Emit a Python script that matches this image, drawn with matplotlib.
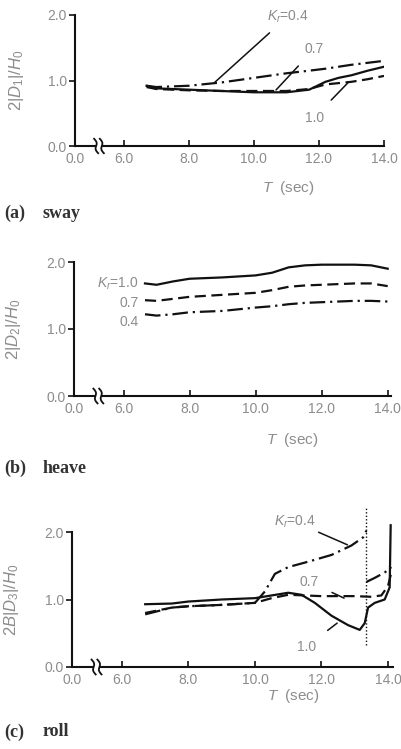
import numpy as np
import matplotlib
matplotlib.use("Agg")
import matplotlib.pyplot as plt

plt.rcParams["font.family"] = ["Liberation Sans", "DejaVu Sans"]
plt.rcParams["mathtext.fontset"] = "custom"
plt.rcParams["mathtext.it"] = "Liberation Sans:italic"
plt.rcParams["mathtext.rm"] = "Liberation Sans"

# ---------------- data ----------------
# (a) sway
T_sway = [6.7, 7.0, 8.0, 9.0, 10.0, 11.0, 11.7, 12.2, 12.6, 13.0, 13.5, 14.0]
sway_K04 = [0.92, 0.90, 0.92, 0.97, 1.04, 1.11, 1.15, 1.18, 1.21, 1.24, 1.27, 1.30]
sway_K07 = [0.90, 0.87, 0.85, 0.84, 0.84, 0.84, 0.87, 0.94, 0.96, 0.98, 1.02, 1.07]
sway_K10 = [0.92, 0.88, 0.86, 0.84, 0.82, 0.82, 0.86, 0.98, 1.04, 1.08, 1.15, 1.21]

# (b) heave
T_heave = [6.65, 7.0, 7.5, 8.0, 9.0, 10.0, 10.5, 11.0, 11.5, 12.0, 13.0, 13.5, 14.0]
heave_K10 = [1.68, 1.66, 1.71, 1.75, 1.77, 1.80, 1.84, 1.92, 1.95, 1.96, 1.96, 1.95, 1.90]
heave_K07 = [1.43, 1.42, 1.45, 1.48, 1.51, 1.54, 1.58, 1.63, 1.65, 1.66, 1.68, 1.68, 1.64]
heave_K04 = [1.22, 1.20, 1.22, 1.25, 1.27, 1.32, 1.34, 1.37, 1.39, 1.40, 1.42, 1.42, 1.41]

# (c) roll
T_roll_K10 = [6.7, 7.5, 8.0, 9.0, 10.0, 10.5, 11.0, 11.4, 11.8, 12.3, 12.8, 13.15, 13.3, 13.4, 13.6, 13.9, 14.05, 14.08]
roll_K10 = [0.93, 0.94, 0.97, 1.00, 1.02, 1.06, 1.10, 1.07, 0.95, 0.76, 0.62, 0.55, 0.65, 0.88, 0.95, 1.00, 1.18, 2.10]
T_roll_K07 = [6.7, 7.5, 8.0, 9.0, 10.0, 10.5, 11.0, 12.0, 13.0, 13.5, 13.8, 14.0, 14.1]
roll_K07 = [0.80, 0.88, 0.90, 0.92, 0.95, 1.02, 1.07, 1.05, 1.05, 1.04, 1.06, 1.20, 1.40]
T_roll_K04 = [6.7, 7.5, 8.0, 9.0, 10.0, 10.3, 10.6, 11.0, 11.6, 12.3, 12.9, 13.25, 13.35, np.nan, 13.35, 13.6, 13.9, 14.1]
roll_K04 = [0.78, 0.88, 0.90, 0.92, 0.95, 1.12, 1.38, 1.48, 1.56, 1.66, 1.80, 1.92, 2.02, np.nan, 1.26, 1.32, 1.40, 1.48]
T_resonance = 13.35
resonance_span = [0.33, 2.36]

x_ticks = [0.0, 6.0, 8.0, 10.0, 12.0, 14.0]
x_ticklabels = ["0.0", "6.0", "8.0", "10.0", "12.0", "14.0"]
y_ticks = [0.0, 1.0, 2.0]
y_ticklabels = ["0.0", "1.0", "2.0"]

# ---------------- style ----------------
GRAY = "#8c8c8c"
INK = "#111111"
LW = 1.6
DASH = (0, (5.0, 2.5))
DASHDOT = (0, (7.0, 2.2, 1.0, 2.2))
FS = 10

# broken x-axis: 0..6 compressed into 1.5 units
def fwd(x):
    x = np.asarray(x, dtype=float)
    return np.where(x < 6.0, 4.5 + x * 0.25, x)

def inv(u):
    u = np.asarray(u, dtype=float)
    return np.where(u < 6.0, (u - 4.5) / 0.25, u)

fig = plt.figure(figsize=(4.02, 7.49), dpi=100)

def setup(ax, xmax, ylabel, xlabel_y):
    ax.set_xscale("function", functions=(fwd, inv))
    ax.set_xlim(0.0, xmax)
    ax.set_ylim(0.0, 2.0)
    for s in ("top", "right"):
        ax.spines[s].set_visible(False)
    for s in ("left", "bottom"):
        ax.spines[s].set_linewidth(1.5)
        ax.spines[s].set_color(INK)
    ax.set_xticks(x_ticks)
    ax.set_xticklabels(x_ticklabels)
    ax.set_yticks(y_ticks)
    ax.set_yticklabels(y_ticklabels)
    ax.minorticks_off()
    ax.tick_params(axis="x", direction="in", length=4, width=1.2, pad=4,
                   labelsize=FS, labelcolor=GRAY, color=INK)
    ax.tick_params(axis="y", direction="out", length=4, width=1.2, pad=2,
                   labelsize=FS, labelcolor=GRAY, color=INK)
    ax.set_ylabel(ylabel, color=GRAY, fontsize=12)
    ax.yaxis.set_label_coords(-0.16, 0.5)
    ax.set_xlabel(r"$T$  (sec)", color=GRAY, fontsize=11, va="top")
    ax.xaxis.set_label_coords(0.69, xlabel_y)
    ax.patch.set_alpha(0)
    # break marks on the x axis
    xt = ax.get_xaxis_transform()
    ax.plot([2.6, 3.3], [0, 0], color="white", lw=3, transform=xt,
            clip_on=False, zorder=5, solid_capstyle="butt")
    for xb in (2.6, 3.3):
        yy = np.linspace(-0.055, 0.055, 20)
        xx = xb + 0.35 * np.sin(np.pi * yy / 0.055) * 0.5 - 0.25 * yy / 0.055
        ax.plot(xx, yy, color=INK, lw=1.3, transform=xt, clip_on=False, zorder=6)

# ---------------- (a) sway ----------------
axa = fig.add_axes([75 / 402, 1 - 146 / 749, 309 / 402, 131 / 749])
setup(axa, 14.0, r"$2|D_1|/H_0$", -0.25)
axa.plot(T_sway, sway_K04, color=INK, lw=LW, ls=DASHDOT)
axa.plot(T_sway, sway_K07, color=INK, lw=LW, ls=DASH)
axa.plot(T_sway, sway_K10, color=INK, lw=LW, ls="-")
axa.annotate(r"$K_r$=0.4", xy=(8.77, 0.96), xytext=(10.4, 1.98),
             color=GRAY, fontsize=FS, va="center", ha="left",
             arrowprops=dict(arrowstyle="-", color=INK, lw=1.1, shrinkA=6, shrinkB=0))
axa.annotate("0.7", xy=(10.68, 0.855), xytext=(11.85, 1.48),
             color=GRAY, fontsize=FS, va="center", ha="center",
             arrowprops=dict(arrowstyle="-", color=INK, lw=1.1, shrinkA=7, shrinkB=0))
axa.annotate("1.0", xy=(12.92, 0.98), xytext=(11.85, 0.43),
             color=GRAY, fontsize=FS, va="center", ha="center",
             arrowprops=dict(arrowstyle="-", color=INK, lw=1.1, shrinkA=8, shrinkB=0))

# ---------------- (b) heave ----------------
axb = fig.add_axes([74 / 402, 1 - 396 / 749, 317 / 402, 134 / 749])
setup(axb, 14.1, r"$2|D_2|/H_0$", -0.26)
axb.plot(T_heave, heave_K10, color=INK, lw=LW, ls="-")
axb.plot(T_heave, heave_K07, color=INK, lw=LW, ls=DASH)
axb.plot(T_heave, heave_K04, color=INK, lw=LW, ls=DASHDOT)
axb.text(6.45, 1.68, r"$K_r$=1.0", color=GRAY, fontsize=FS, ha="right", va="center")
axb.text(6.45, 1.39, "0.7", color=GRAY, fontsize=FS, ha="right", va="center")
axb.text(6.45, 1.10, "0.4", color=GRAY, fontsize=FS, ha="right", va="center")

# ---------------- (c) roll ----------------
axc = fig.add_axes([72 / 402, 1 - 667 / 749, 321 / 402, 135 / 749])
setup(axc, 14.15, r"$2B|D_3|/H_0$", -0.15)
axc.plot(T_roll_K10, roll_K10, color=INK, lw=LW, ls="-", clip_on=False)
axc.plot(T_roll_K07, roll_K07, color=INK, lw=LW, ls=DASH, clip_on=False)
axc.plot(T_roll_K04, roll_K04, color=INK, lw=LW, ls=DASHDOT, clip_on=False)
axc.plot([T_resonance, T_resonance], resonance_span, color=INK, lw=1.0,
         ls=(0, (1, 1.5)), clip_on=False)
axc.annotate(r"$K_r$=0.4", xy=(12.78, 1.81), xytext=(11.2, 2.15),
             color=GRAY, fontsize=FS, va="center", ha="center",
             arrowprops=dict(arrowstyle="-", color=INK, lw=1.1, shrinkA=0, shrinkB=0),
             annotation_clip=False)
axc.annotate("0.7", xy=(12.68, 1.02), xytext=(11.64, 1.26),
             color=GRAY, fontsize=FS, va="center", ha="center",
             arrowprops=dict(arrowstyle="-", color=INK, lw=1.1, shrinkA=8, shrinkB=0))
axc.annotate("1.0", xy=(12.47, 0.65), xytext=(11.55, 0.30),
             color=GRAY, fontsize=FS, va="center", ha="center",
             arrowprops=dict(arrowstyle="-", color=INK, lw=1.1, shrinkA=8, shrinkB=0))

# ---------------- captions ----------------
cap_font = dict(family="Liberation Serif", fontsize=13, fontweight="bold",
                color="#333333", va="center", ha="left")
for label, name, ypx in (("(a)", "sway", 213), ("(b)", "heave", 468), ("(c)", "roll", 732)):
    fig.text(4 / 402, 1 - ypx / 749, label, **cap_font)
    fig.text(43 / 402, 1 - ypx / 749, name, **cap_font)

fig.savefig("out.png", dpi=100)
